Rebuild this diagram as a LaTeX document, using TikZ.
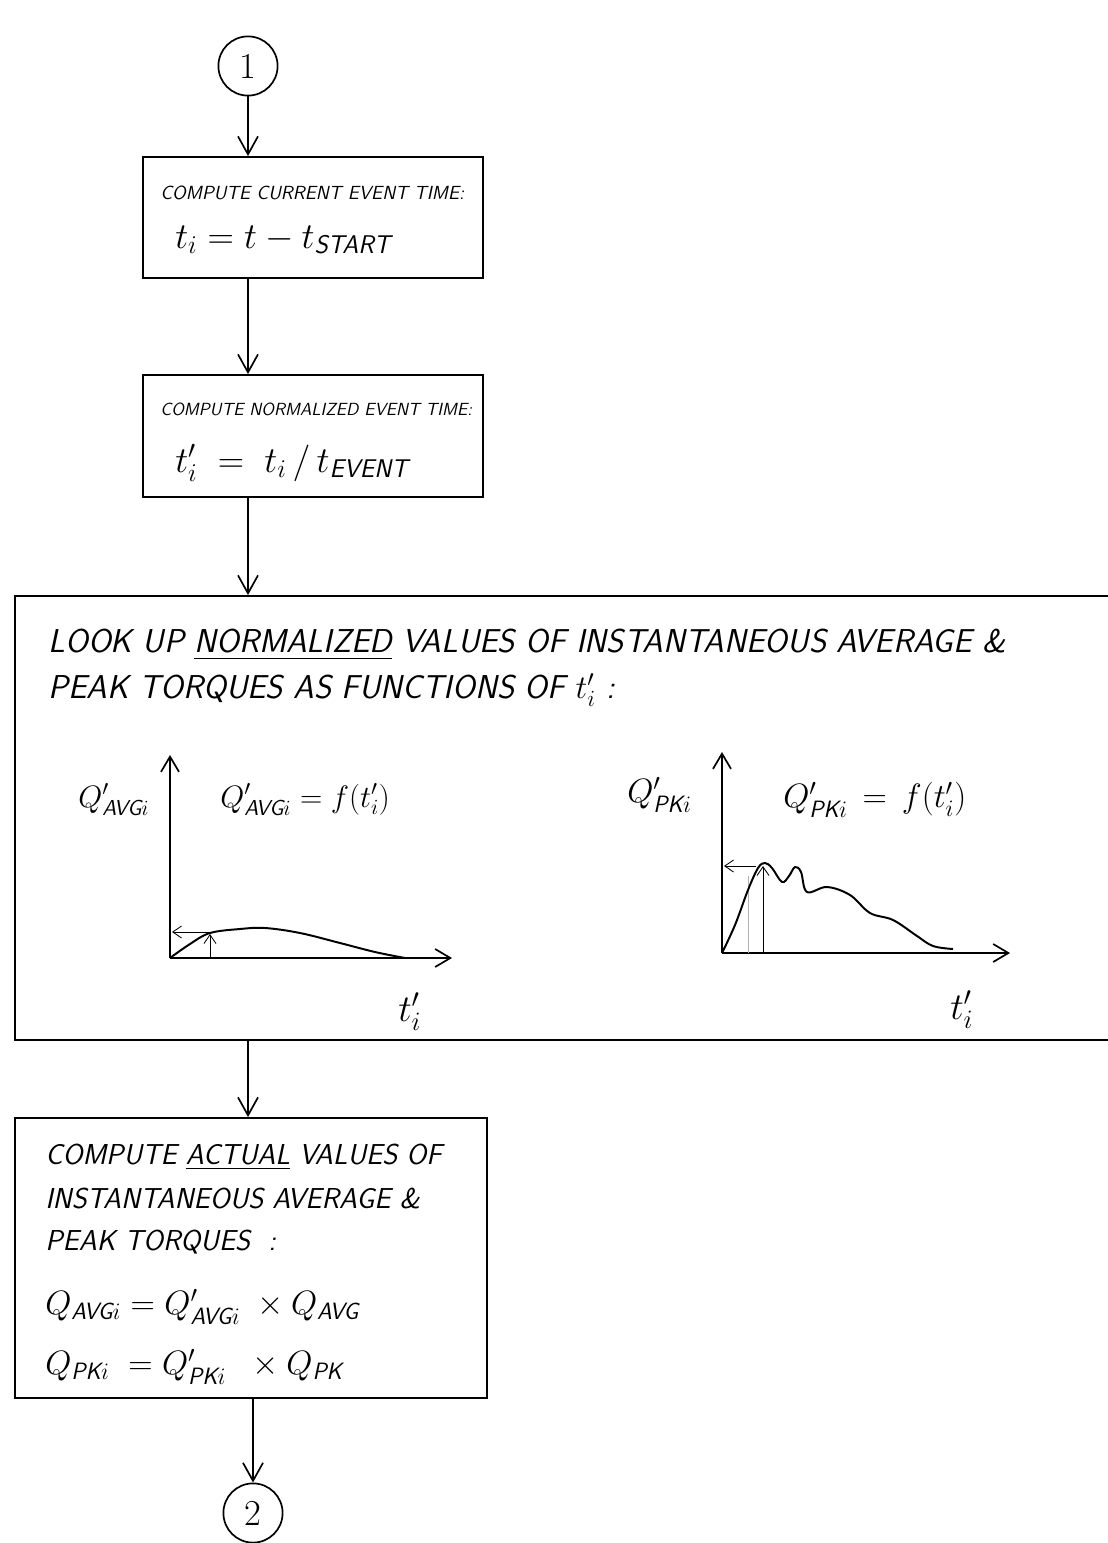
\RequirePackage{fix-cm}
\documentclass[tikz,border=0pt]{standalone}
\usepackage{amsmath}
\usetikzlibrary{arrows.meta,positioning,calc,fit}
\newcommand{\hw}[1]{\textsf{\slshape #1}}
\newcommand{\fsz}[1]{\fontsize{#1}{#1}\selectfont}
\tikzset{
  flowbox/.style={draw,line width=1.3pt,inner sep=0pt},
  conn/.style={circle,draw,line width=1.2pt,minimum size=1.48cm,inner sep=0pt,font=\fsz{26}},
  flow/.style={-{Straight Barb[length=.45cm,width=.5cm,line width=1.2pt]},line width=1.1pt},
  axis/.style={-{Straight Barb[length=.38cm,width=.45cm,line width=1.2pt]},line width=1.2pt},
  tick/.style={-{Straight Barb[length=.22cm,width=.3cm]},line width=.6pt},
  curve/.style={line width=1.4pt,smooth,tension=.6},
  hand/.style={anchor=west,inner sep=0pt,font=\sffamily\slshape\fsz{#1}},
  eq/.style={anchor=west,inner sep=0pt,font=\fsz{#1}}
}
\begin{document}
\begin{tikzpicture}[x=.025cm,y=-.025cm]
\useasboundingbox (0,0) rectangle (1108,1543);
% connectors and boxes
\node[conn] (c1) at (248,66) {1};
\node[flowbox,fit={(143,157) (483,278)}] (b1) {};
\node[flowbox,fit={(143,375) (483,497)}] (b2) {};
\node[flowbox,fit={(15,596) (1125,1040)}] (b3) {};
\node[flowbox,fit={(15,1118) (487,1398)}] (b4) {};
\node[conn] (c2) at (253,1513) {2};
\draw[flow] (c1) -- (c1 |- b1.north);
\draw[flow] (c1 |- b1.south) -- (c1 |- b2.north);
\draw[flow] (c1 |- b2.south) -- (c1 |- b3.north);
\draw[flow] (c1 |- b3.south) -- (c1 |- b4.north);
\draw[flow] (c2 |- b4.south) -- (c2);
% box texts
\node[hand=13.5] (t1) at (160,193) {COMPUTE CURRENT EVENT TIME:};
\node[eq=26] (e1) at (175,240) {$t_i = t - t_{\hw{START}}$};
\node[hand=12.5] (t2) at (160,409) {COMPUTE NORMALIZED EVENT TIME:};
\node[eq=26] (e2) at (175,463) {$t'_i \;=\; t_i\,/\,t_{\hw{EVENT}}$};
\node[hand=23.5] (t3) at (48,645) {LOOK UP \underline{NORMALIZED} VALUES OF INSTANTANEOUS AVERAGE \&};
\node[hand=23.5] (t4) at (48,690) {PEAK TORQUES AS FUNCTIONS OF $t'_i$ :};
\node[hand=20.5] (t5) at (45,1157) {COMPUTE \underline{ACTUAL} VALUES OF};
\node[hand=20.5] (t6) at (45,1198) {INSTANTANEOUS AVERAGE \&};
\node[hand=20.5] (t7) at (45,1242) {PEAK TORQUES \ :};
\node[eq=24] (e3) at (45,1307) {$Q_{\hw{AVG}i} = Q'_{\hw{AVG}i}\;\times Q_{\hw{AVG}}$};
\node[eq=24] (e4) at (45,1367) {$Q_{\hw{PK}i} \;= Q'_{\hw{PK}i}\;\;\times Q_{\hw{PK}}$};
% left graph
\draw[axis] (170,958) -- (170,755);
\draw[axis] (170,958) -- (452,958);
\draw[curve] plot coordinates {(170,958) (190,944) (210,933) (240,929) (265,928) (300,933) (340,943) (375,952) (405,958)};
\draw[tick] (210,932) -- (172,932);
\draw[tick] (210,958) -- (210,934);
\node[eq=22] (qa) at (78,800) {$Q'_{\hw{AVG}i}$};
\node[eq=22] (fa) at (220,800) {$Q'_{\hw{AVG}i} = f(t'_i)$};
\node[eq=27] (ta) at (398,1012) {$t'_i$};
% right graph
\draw[axis] (722,953) -- (722,752);
\draw[axis] (722,953) -- (1010,953);
\draw[gray!60,line width=.5pt] (748,953) -- (748,876);
\draw[curve] plot coordinates {(722,953) (735,925) (748,890) (758,868) (765,863) (772,868) (782,882) (789,876) (795,867) (801,872) (807,892) (827,887) (850,895) (870,913) (893,920) (917,936) (933,946) (953,949)};
\draw[tick] (756,866) -- (724,866);
\draw[tick] (763,953) -- (763,866);
\node[eq=24] (qp) at (627,795) {$Q'_{\hw{PK}i}$};
\node[eq=24] (fp) at (783,800) {$Q'_{\hw{PK}i} \,=\, f(t'_i)$};
\node[eq=27] (tp) at (950,1010) {$t'_i$};
\end{tikzpicture}
\end{document}
